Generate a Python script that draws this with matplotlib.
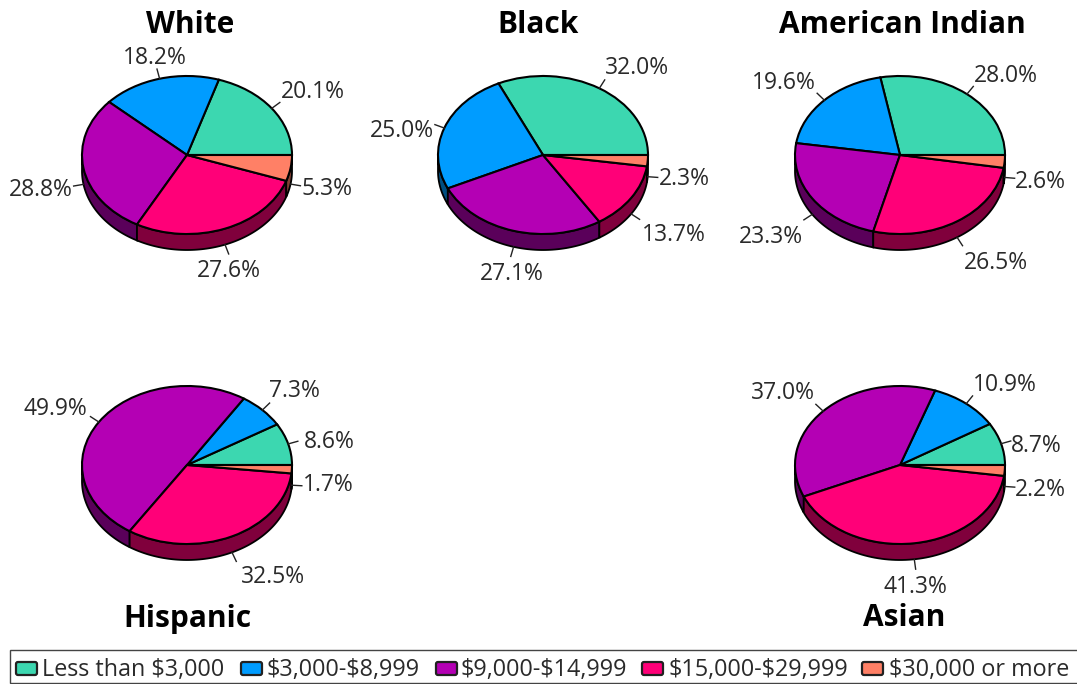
import numpy as np
import matplotlib
matplotlib.use("Agg")
import matplotlib.pyplot as plt
from matplotlib.colors import to_rgb
from matplotlib.patches import Polygon, Rectangle, FancyBboxPatch

W, H = 1077, 684

categories = ["Less than $3,000", "$3,000-$8,999", "$9,000-$14,999",
              "$15,000-$29,999", "$30,000 or more"]
colors = ["#3CD7B0", "#009CFF", "#B400B4", "#FF0078", "#FF8066"]

groups = ["White", "Black", "American Indian", "Hispanic", "Asian"]
white = [20.1, 18.2, 28.8, 27.6, 5.3]
black = [32.0, 25.0, 27.1, 13.7, 2.3]
american_indian = [28.0, 19.6, 23.3, 26.5, 2.6]
hispanic = [8.6, 7.3, 49.9, 32.5, 1.7]
asian = [8.7, 10.9, 37.0, 41.3, 2.2]
shares = [white, black, american_indian, hispanic, asian]

# layout, all in pixels from the top left corner
centers = [(187, 155), (543, 155), (900, 155), (187, 465), (900, 465)]
title_pos = [(190, 25), (538, 25), (902, 25), (187, 619), (904, 618)]
label_pos = [
    [(313, 92), (155, 58), (41, 190), (229, 271), (327, 189)],
    [(637, 68), (402, 131), (512, 274), (674, 235), (684, 179)],
    [(1006, 76), (784, 83), (771, 237), (996, 263), (1040, 182)],
    [(329, 442), (294, 391), (55, 409), (273, 577), (328, 485)],
    [(1036, 446), (1005, 385), (783, 393), (915, 587), (1040, 490)],
]
RX, RY, DEPTH = 105, 79, 16
TICK_LEN = 10

swatch_x = [15, 240, 435, 641, 861]
legend_text_x = [42, 267, 461, 669, 889]

LABEL_FONT = ["Open Sans", "DejaVu Sans"]
TITLE_FONT = ["Open Sans", "DejaVu Sans"]


def draw_wall(ax, start, end, color):
    # side of the disc, only the part facing the viewer
    lo, hi = max(start, 180), min(end, 360)
    if hi <= lo:
        return
    t = np.radians(np.linspace(lo, hi, 80))
    d = DEPTH / RY
    top = np.column_stack([np.cos(t), np.sin(t)])
    bottom = np.column_stack([np.cos(t[::-1]), np.sin(t[::-1]) - d])
    shade = tuple(c * 0.5 for c in to_rgb(color))
    ax.add_patch(Polygon(np.vstack([top, bottom]), closed=True, facecolor=shade,
                         edgecolor="black", linewidth=1.3, clip_on=False, zorder=1))


def draw_pie(fig, overlay, values, center, labels_xy):
    cx, cy = center
    ax = fig.add_axes([(cx - RX) / W, 1 - (cy + RY) / H, 2 * RX / W, 2 * RY / H])
    patches, _ = ax.pie(values, colors=colors, startangle=0, counterclock=True,
                        wedgeprops={"edgecolor": "black", "linewidth": 1.5, "zorder": 2})
    ax.set_aspect("auto")
    ax.set_xlim(-1, 1)
    ax.set_ylim(-1, 1)
    for p in patches:
        p.set_clip_on(False)

    edges = np.concatenate([[0], np.cumsum(values)]) / np.sum(values) * 360
    for i, color in enumerate(colors):
        draw_wall(ax, edges[i], edges[i + 1], color)

    # percentage labels with a short leader off the rim
    for i, value in enumerate(values):
        mid = np.radians((edges[i] + edges[i + 1]) / 2)
        x0 = cx + RX * np.cos(mid)
        y0 = cy - RY * np.sin(mid) + (DEPTH if np.sin(mid) < 0 else 0)
        x1 = x0 + TICK_LEN * np.cos(mid)
        y1 = y0 - TICK_LEN * np.sin(mid)
        overlay.plot([x0, x1], [y0, y1], color="#222222", linewidth=1.0)
        overlay.text(*labels_xy[i], f"{value:.1f}%", ha="center", va="center",
                     fontsize=16.5, color="#2a2a2a", family=LABEL_FONT)


fig = plt.figure(figsize=(W / 100, H / 100), dpi=100, facecolor="white")

overlay = fig.add_axes([0, 0, 1, 1], zorder=5)
overlay.set_xlim(0, W)
overlay.set_ylim(H, 0)
overlay.axis("off")
overlay.patch.set_alpha(0)

for group, values, center, labels_xy, tp in zip(groups, shares, centers, label_pos, title_pos):
    draw_pie(fig, overlay, values, center, labels_xy)
    overlay.text(*tp, group, ha="center", va="center", fontsize=21.5,
                 fontweight="bold", color="black", family=TITLE_FONT)

# legend strip along the bottom
overlay.add_patch(Rectangle((9.5, 649.5), W, 33.5, facecolor="white",
                            edgecolor="#444444", linewidth=1.0))
for name, color, sx, tx in zip(categories, colors, swatch_x, legend_text_x):
    overlay.add_patch(FancyBboxPatch((sx + 1, 662), 21, 13, boxstyle="round,pad=0,rounding_size=2",
                                     facecolor=color, edgecolor="#222222", linewidth=1.6))
    overlay.text(tx, 670, name, ha="left", va="center", fontsize=16.8,
                 color="#2a2a2a", family=LABEL_FONT, parse_math=False)

fig.savefig("out.png", dpi=100)
